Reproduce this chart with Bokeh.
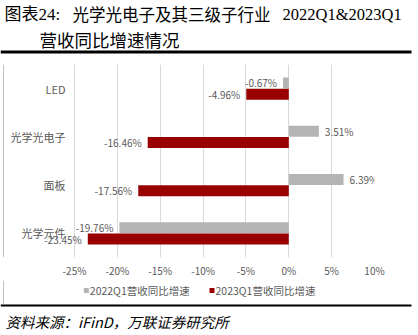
from bokeh.plotting import figure
from bokeh.layouts import column, row
from bokeh.models import (ColumnDataSource, FactorRange, FixedTicker, PrintfTickFormatter,
                          Range1d)
from bokeh.transform import dodge
from bokeh.core.properties import value
from bokeh.embed import file_html
from bokeh.resources import INLINE

# ---- data ----
categories = ["LED", "光学光电子", "面板", "光学元件"]
growth_2022q1 = [-0.67, 3.51, 6.39, -19.76]
growth_2023q1 = [-4.96, -16.46, -17.56, -23.45]
series_names = ["2022Q1营收同比增速", "2023Q1营收同比增速"]
x_ticks = [-25, -20, -15, -10, -5, 0, 5, 10]
title_parts = ["图表24:", "光学光电子及其三级子行业", "2022Q1&2023Q1"]
title_line2 = "营收同比增速情况"
source_note = "资料来源：iFinD，万联证券研究所"

# ---- style / layout constants ----
GRAY = "#B4B4B4"
RED = "#990000"
TXT = "#595959"
RULE_GRAY = "#BFBFBF"
SANS = "Noto Sans CJK SC"
SERIF = "'Liberation Serif', 'Noto Sans CJK SC'"
OFF = 0.117
BAR_H = 0.232
W = 418
STRIP_W = 4
HEAD_H, MAIN_H, LEG_H, FOOT_H = 54, 226, 24, 31
AX_LEFT_PX, AX_RIGHT_PX = 74, 374      # canvas px of -25% and 10%
FRAME_LEFT_PX = 36                     # frame starts left of -25% so labels fit
PPU = (AX_RIGHT_PX - AX_LEFT_PX) / (x_ticks[-1] - x_ticks[0])
X_START = x_ticks[0] - (AX_LEFT_PX - FRAME_LEFT_PX) / PPU


def blank(width, height):
    f = figure(width=width, height=height, x_range=Range1d(0, width),
               y_range=Range1d(height, 0), output_backend="svg",
               toolbar_location=None, x_axis_location=None, y_axis_location=None,
               min_border=0)
    f.grid.visible = False
    f.outline_line_color = None
    f.background_fill_color = "white"
    f.border_fill_color = "white"
    return f


# ---- header: title + thick rule ----
head = blank(W, HEAD_H)
head.text(x=[4], y=[13.5], text=[title_parts[0]], text_baseline="middle",
          text_font=value(SERIF), text_font_size="17px", text_color="#000000")
head.text(x=[72], y=[13.5], text=[title_parts[1]], text_baseline="middle",
          text_font=value(SANS), text_font_size="16.5px", text_color="#000000")
head.text(x=[282], y=[13.5], text=[title_parts[2]], text_baseline="middle",
          text_font=value("Liberation Serif"), text_font_size="16.5px", text_color="#000000")
head.text(x=[39], y=[38.5], text=[title_line2], text_baseline="middle",
          text_font=value(SANS), text_font_size="17.5px", text_color="#000000")
head.segment(x0=[0], y0=[51.5], x1=[411], y1=[51.5], line_width=3, line_color="#000000")
head.segment(x0=[3], y0=[53], x1=[3], y1=[54], line_width=1, line_color=RULE_GRAY)

# ---- left thin rule strip ----
strip = blank(STRIP_W, MAIN_H)
strip.segment(x0=[3], y0=[0], x1=[3], y1=[MAIN_H], line_width=1, line_color=RULE_GRAY)

# ---- main chart ----
p = figure(width=W - STRIP_W, height=MAIN_H,
           y_range=FactorRange(*reversed(categories)),
           x_range=Range1d(X_START, x_ticks[-1]),
           output_backend="svg", toolbar_location=None,
           min_border_left=FRAME_LEFT_PX - STRIP_W, min_border_right=W - AX_RIGHT_PX,
           min_border_top=10, min_border_bottom=19)
p.outline_line_color = None
p.background_fill_color = "white"
p.border_fill_color = "white"

src = ColumnDataSource(dict(cat=categories, v22=growth_2022q1, v23=growth_2023q1))
p.hbar(y=dodge("cat", OFF, range=p.y_range), left=0, right="v22", height=BAR_H,
       source=src, fill_color=GRAY, line_color=None)
p.hbar(y=dodge("cat", -OFF, range=p.y_range), left=0, right="v23", height=BAR_H,
       source=src, fill_color=RED, line_color=None)

for vals, off in ((growth_2022q1, OFF), (growth_2023q1, -OFF)):
    for neg in (True, False):
        idx = [i for i, v in enumerate(vals) if (v < 0) == neg]
        if not idx:
            continue
        s = ColumnDataSource(dict(cat=[categories[i] for i in idx],
                                  v=[vals[i] for i in idx],
                                  t=[f"{vals[i]:.2f}%" for i in idx]))
        p.text(x="v", y=dodge("cat", off, range=p.y_range), text="t", source=s,
               text_align="right" if neg else "left",
               x_offset=-6 if neg else 6, text_baseline="middle",
               text_font=value(SANS), text_font_size="10px", text_color=TXT)

p.ygrid.grid_line_color = None
p.xgrid.ticker = FixedTicker(ticks=x_ticks)
p.xgrid.grid_line_color = "#D9D9D9"
p.xgrid.grid_line_width = 1

p.xaxis.ticker = FixedTicker(ticks=x_ticks)
p.xaxis.formatter = PrintfTickFormatter(format="%d%%")
for ax in (p.xaxis[0], p.yaxis[0]):
    ax.axis_line_color = None
    ax.major_tick_line_color = None
    ax.minor_tick_line_color = None
    ax.major_tick_out = 0
    ax.major_tick_in = 0
    ax.major_label_text_color = TXT
    ax.major_label_text_font = SANS
p.xaxis.major_label_text_font_size = "10px"
p.xaxis.major_label_standoff = 5
p.yaxis.major_label_text_font_size = "11px"
p.yaxis.major_label_standoff = -(65 - FRAME_LEFT_PX)   # labels end at canvas x=65

# ---- legend strip (drawn manually, canvas-aligned) ----
leg = blank(W, LEG_H)
leg.segment(x0=[3], y0=[0], x1=[3], y1=[LEG_H], line_width=1, line_color=RULE_GRAY)
key_x = [85.8, 211.5]
leg.rect(x=key_x, y=[10, 10], width=5, height=5, width_units="screen",
         height_units="screen", fill_color=[GRAY, RED], line_color=None)
leg.text(x=[kx + 3.5 for kx in key_x], y=[10, 10], text=series_names,
         text_baseline="middle", text_align="left", text_font=value(SANS),
         text_font_size="10.5px", text_color=TXT)

# ---- footer: rule + source ----
foot = blank(W, FOOT_H)
foot.segment(x0=[0], y0=[0.8], x1=[411], y1=[0.8], line_width=2.5, line_color="#000000")
foot.text(x=[5], y=[16.5], text=[source_note], text_baseline="middle",
          text_font=value(SANS), text_font_size="14.5px", text_font_style="italic",
          text_color="#000000")

layout = column(head, row(strip, p, spacing=0), leg, foot, spacing=0)
open("out.html", "w").write(file_html(layout, INLINE))
